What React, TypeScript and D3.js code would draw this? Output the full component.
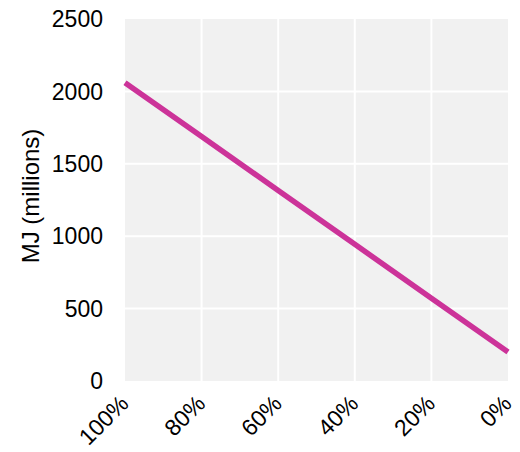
import React, { useEffect, useRef } from "react";
import * as d3 from "d3";

const shares = [100, 80, 60, 40, 20, 0];
const energy = [2060, 1688, 1316, 944, 572, 200];
const yTicks = [0, 500, 1000, 1500, 2000, 2500];

const App = () => {
    const svgRef = useRef<SVGSVGElement>(null);

    useEffect(() => {
        const width = 520;
        const height = 452;
        const margin = { top: 19, right: 12, bottom: 71, left: 125 };

        const svg = d3.select(svgRef.current);
        svg.selectAll("*").remove();
        svg.attr("width", width).attr("height", height);

        const x = d3
            .scaleLinear()
            .domain([100, 0])
            .range([margin.left, width - margin.right]);

        const y = d3
            .scaleLinear()
            .domain([0, 2500])
            .range([height - margin.bottom, margin.top]);

        svg
            .append("rect")
            .attr("x", margin.left)
            .attr("y", margin.top)
            .attr("width", width - margin.left - margin.right)
            .attr("height", height - margin.top - margin.bottom)
            .attr("fill", "#f1f1f1");

        svg
            .append("g")
            .selectAll("line")
            .data(shares.slice(1, -1))
            .enter()
            .append("line")
            .attr("x1", (d) => x(d))
            .attr("x2", (d) => x(d))
            .attr("y1", margin.top)
            .attr("y2", height - margin.bottom)
            .attr("stroke", "#fff")
            .attr("stroke-width", 2);

        svg
            .append("g")
            .selectAll("line")
            .data(yTicks.slice(1, -1))
            .enter()
            .append("line")
            .attr("x1", margin.left)
            .attr("x2", width - margin.right)
            .attr("y1", (d) => y(d))
            .attr("y2", (d) => y(d))
            .attr("stroke", "#fff")
            .attr("stroke-width", 2);

        const line = d3
            .line<number>()
            .x((d, i) => x(shares[i]))
            .y((d) => y(d));

        svg
            .append("path")
            .datum(energy)
            .attr("d", line)
            .attr("fill", "none")
            .attr("stroke", "#cc3399")
            .attr("stroke-width", 5.5);

        const font = "'Liberation Sans', Arial, sans-serif";

        svg
            .append("g")
            .selectAll("text")
            .data(yTicks)
            .enter()
            .append("text")
            .attr("x", 103)
            .attr("y", (d) => y(d))
            .attr("dy", "0.36em")
            .attr("text-anchor", "end")
            .style("font-family", font)
            .style("font-size", "23px")
            .attr("fill", "#000")
            .text((d) => d);

        // rotated percent labels, ending just right of each tick
        svg
            .append("g")
            .selectAll("text")
            .data(shares)
            .enter()
            .append("text")
            .attr(
                "transform",
                (d) => `translate(${x(d) + 5},${height - margin.bottom + 24}) rotate(-45)`
            )
            .attr("text-anchor", "end")
            .style("font-family", font)
            .style("font-size", "23px")
            .attr("fill", "#000")
            .text((d) => `${d}%`);

        svg
            .append("text")
            .attr("transform", `translate(39,196) rotate(-90)`)
            .attr("text-anchor", "middle")
            .style("font-family", font)
            .style("font-size", "24px")
            .attr("fill", "#000")
            .text("MJ (millions)");
    }, []);

    return (
        <svg
            ref={svgRef}
            style={{ position: "absolute", top: 0, left: 0, display: "block" }}
        ></svg>
    );
};

export default App;
